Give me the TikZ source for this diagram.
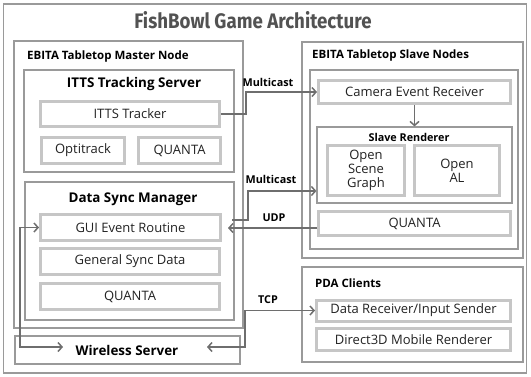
\documentclass[tikz,border=0pt]{standalone}
\usepackage{fontspec}
\setmainfont{Open Sans}
\newfontfamily\titlefont{Fira Sans}
\usetikzlibrary{arrows.meta}
\definecolor{framegray}{HTML}{9A9A9A}
\definecolor{leafgray}{HTML}{C6C6C6}
\definecolor{arrgray}{HTML}{6E6E6E}
\definecolor{txt}{HTML}{222222}
\begin{document}
\begin{tikzpicture}[x=1pt,y=-1pt,
  container/.style={draw=framegray, line width=1.2pt, fill=none, inner sep=0pt},
  leaf/.style={draw=leafgray, line width=3pt, fill=white, inner sep=0pt, font=\fontsize{13}{15}\selectfont, text=txt, align=center},
  head/.style={font=\bfseries\fontsize{11.5}{13}\selectfont, text=black, inner sep=0pt},
  bighead/.style={font=\bfseries\fontsize{13.4}{15}\selectfont, text=black, inner sep=0pt},
  lbl/.style={font=\bfseries\fontsize{10.8}{12}\selectfont, text=black, inner sep=0pt},
  arr/.style={draw=arrgray, line width=1.5pt, -{Straight Barb[length=4pt,width=9pt]}},
  arr2/.style={draw=arrgray, line width=1.5pt, {Straight Barb[length=4pt,width=9pt]}-{Straight Barb[length=4pt,width=9pt]}}
]
\useasboundingbox (0,0) rectangle (531,376);
% outer frame
\node[draw=framegray, line width=1.8pt, minimum width=523pt, minimum height=369pt, inner sep=0pt] (outer) at (265,188.5) {};
\node[inner sep=0pt, text=black!68] (title) at (253,20) {\scalebox{0.89}[1]{\titlefont\bfseries\fontsize{21}{23}\selectfont FishBowl Game Architecture}};

% master node
\node[container, minimum width=229pt, minimum height=287pt] (master) at (128.5,184.5) {};
\node[head, anchor=west] (mastert) at (27,57) {EBITA Tabletop Master Node};
\node[container, minimum width=210pt, minimum height=102pt] (ittss) at (129,121) {};
\node[bighead] (ittsst) at (134,84) {ITTS Tracking Server};
\node[leaf, minimum width=179pt, minimum height=25pt] (ittst) at (130,114) {ITTS Tracker};
\node[leaf, minimum width=83pt, minimum height=26pt] (opti) at (83,150.5) {Optitrack};
\node[leaf, minimum width=82pt, minimum height=26pt] (qa) at (179.5,150.5) {QUANTA};
\node[container, minimum width=209pt, minimum height=138pt] (dsm) at (129.5,251) {};
\node[bighead] (dsmt) at (133,199) {Data Sync Manager};
\node[leaf, minimum width=180pt, minimum height=26pt] (gui) at (130.5,227.5) {GUI Event Routine};
\node[leaf, minimum width=179pt, minimum height=26pt] (gsd) at (130,261.5) {General Sync Data};
\node[leaf, minimum width=179pt, minimum height=26pt] (qb) at (130,296.5) {QUANTA};
\node[container, minimum width=225pt, minimum height=28pt] (wire) at (127.5,350) {};
\node[bighead] (wiret) at (127,350) {Wireless Server};

% slave nodes
\node[container, minimum width=221pt, minimum height=216pt] (slave) at (412.5,150) {};
\node[head, anchor=west] (slavet) at (312,56) {EBITA Tabletop Slave Nodes};
\node[container, minimum width=208pt, minimum height=179pt] (inner) at (414,159.5) {};
\node[leaf, minimum width=192pt, minimum height=23pt] (cam) at (414.5,92) {Camera Event Receiver};
\node[container, minimum width=195pt, minimum height=76pt] (rend) at (414.5,165) {};
\node[lbl] (rendt) at (409,137) {Slave Renderer};
\node[leaf, minimum width=77pt, minimum height=50pt, font=\fontsize{13}{14}\selectfont] (osg) at (366,170.5) {Open\\Scene\\Graph};
\node[leaf, minimum width=85pt, minimum height=50pt, font=\fontsize{13}{14}\selectfont] (oal) at (457,170.5) {Open\\AL};
\node[leaf, minimum width=192pt, minimum height=24pt] (qc) at (414.5,223.5) {QUANTA};

% PDA clients
\node[container, minimum width=221pt, minimum height=95pt] (pda) at (412.5,314.5) {};
\node[head, anchor=west] (pdat) at (315,283) {PDA Clients};
\node[leaf, minimum width=194pt, minimum height=21pt] (dr) at (413.5,310.5) {Data Receiver/Input Sender};
\node[leaf, minimum width=194pt, minimum height=22pt] (d3d) at (413.5,339.5) {Direct3D Mobile Renderer};

% connectors
\draw[arr] (ittst.east) -- ++(25,0) |- (cam.west);
\node[lbl] (mc1) at (268,82) {Multicast};
\draw[arr] (cam.south) -- (rend.north);
\draw[arr] ([yshift=7.5pt]gui.east) ++(10,0) -- (248,220) |- ([yshift=-26pt]rend.west);
\node[lbl] (mc2) at (271,179) {Multicast};
\draw[arr, shorten >=6pt] ([yshift=-4.5pt]qc.west) -- ([yshift=-4.5pt]qc.west -| gui.east);
\node[lbl] (udp) at (274,218) {UDP};
\coordinate (wl) at (63,347);
\coordinate (wr) at (207,347);
\draw[arr2] (gui.west) -- ++(-19,0) |- (wl);
\draw[arr2] (wr) -- (245,347) |- (dr.west);
\node[lbl] (tcp) at (268,300) {TCP};
\end{tikzpicture}
\end{document}
